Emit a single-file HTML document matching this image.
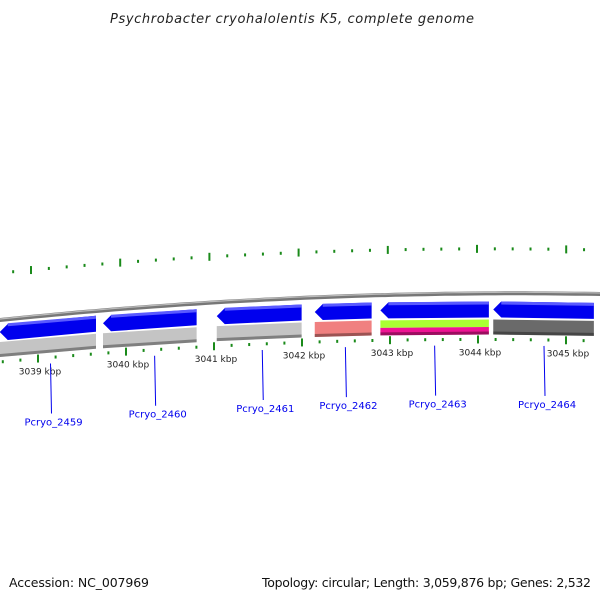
<!DOCTYPE html>
<html><head><meta charset="utf-8"><style>
html,body{margin:0;padding:0;background:#fff;}
svg{display:block;font-family:"DejaVu Sans","Liberation Sans",sans-serif;}
</style></head><body>
<svg id="chart" width="600" height="600" viewBox="0 0 600 600" xmlns="http://www.w3.org/2000/svg">
<text x="292" y="23" text-anchor="middle" font-size="13" font-style="italic" fill="#222" textLength="364">Psychrobacter cryohalolentis K5, complete genome</text>
<text x="9" y="587" font-size="12.5" fill="#111" textLength="140">Accession: NC_007969</text>
<text x="262" y="587" font-size="12.5" fill="#111" textLength="329">Topology: circular; Length: 3,059,876 bp; Genes: 2,532</text>
<g id="g"></g>
</svg>
<script>
// data (positions in kbp)
const geneNames = ["Pcryo_2459","Pcryo_2460","Pcryo_2461","Pcryo_2462","Pcryo_2463","Pcryo_2464"];
const geneStart = [3038.54, 3039.72, 3041.02, 3042.14, 3042.89, 3044.18];
const geneEnd   = [3039.64, 3040.79, 3041.99, 3042.79, 3044.13, 3045.33];
const geneStrand = [-1,-1,-1,-1,-1,-1];
const geneLabelPos = [3039.12, 3040.31, 3041.54, 3042.49, 3043.51, 3044.76];
const tickLabels = ["3039 kbp","3040 kbp","3041 kbp","3042 kbp","3043 kbp","3044 kbp","3045 kbp"];
const tickValues = [3039,3040,3041,3042,3043,3044,3045];
const funcColors = [["#c4c4c4"],["#c4c4c4"],["#c4c4c4"],["#f08080"],["#aaff33","#ee1493"],["#6a6a6a"]];

const NS="http://www.w3.org/2000/svg";
const g=document.getElementById('g');
const xs=k=>40+(k-3039)*87.5;
const xo=k=>31+(k-3039)*89.2;
const xi=k=>38+(k-3039)*88;
const yb=x=>320-0.1033*x+0.0001*x*x;
const e=x=>5*x/600;
function mk(tag,attrs){const el=document.createElementNS(NS,tag);for(const k in attrs)el.setAttribute(k,attrs[k]);g.appendChild(el);return el;}
function Y(x,o){return yb(x)+o+e(x);}
function band(x1,x2,o1,o2){const a=Math.max(x1,-5),b=Math.min(x2,605);return `${a},${Y(a,o1)} ${b},${Y(b,o1)} ${b},${Y(b,o2)} ${a},${Y(a,o2)}`;}

// backbone
let d="";for(let x=-5;x<=605;x+=10)d+=(d?"L":"M")+x+","+yb(x).toFixed(1);
let bb=mk('path',{d:d,stroke:"#777",'stroke-width':4,fill:"none"});


let bb2=mk('path',{d:d,stroke:"#bbb",'stroke-width':1.2,fill:"none",transform:"translate(0,-1)"});



// ticks (every 0.2 kbp)
for(let n=-25;n<=40;n++){
  const kk=3039+n*0.2;
  const major=(n%5===0);const L=major?8:3;
  const x=xo(kk);
  if(x>5&&x<595){
    const yo=yb(x)-47+3*x/600;
    let t1=mk('line',{x1:x,x2:x,y1:yo-L/2,y2:yo+L/2,stroke:"#1a8a1a",'stroke-width':2});
    
    
  }
  const x2=xi(kk);
  if(x2>0&&x2<595){
    const yi=Y(x2,42);
    let t2=mk('line',{x1:x2,x2:x2,y1:yi-L/2,y2:yi+L/2,stroke:"#1a8a1a",'stroke-width':2});
    
    
  }
}
tickValues.forEach((v,i)=>{const x=xi(v)+2;
  const t=mk('text',{x:x,y:Y(x,58),'text-anchor':"middle",'font-size':9,fill:"#222"});t.textContent=tickLabels[i];
  
  
});

// genes
geneNames.forEach((n,i)=>{
  const x1=xs(geneStart[i]),x2=xs(geneEnd[i]);
  const ah=8;
  let pts;
  if(geneStrand[i]<0){pts=`${x1},${Y(x1,12)} ${x1+ah},${Y(x1,4)} ${x2},${Y(x2,4)} ${x2},${Y(x2,20)} ${x1+ah},${Y(x1,20)}`;}
  else{pts=`${x1},${Y(x1,4)} ${x2-ah},${Y(x2,4)} ${x2},${Y(x2,12)} ${x2-ah},${Y(x2,20)} ${x1},${Y(x1,20)}`;}
  const a=mk('polygon',{points:pts,fill:"#0000ee"});
  
  
  const hl=mk('polygon',{points:band(x1+(geneStrand[i]<0?ah:0),x2,4,7),fill:"#5a5aff"});
  
  
  const cols=funcColors[i];const h=15/cols.length;
  cols.forEach((c,j)=>{const r=mk('polygon',{points:band(x1,x2,22+j*h,22+(j+1)*h),fill:c});
    
    });
  const sh=mk('polygon',{points:band(x1,x2,34,37),fill:"rgba(0,0,0,0.35)"});
  
  
  const lx=xs(geneLabelPos[i]);
  const ln=mk('line',{x1:lx,y1:Y(lx,48),x2:lx+1,y2:Y(lx,98),stroke:"#0000ee",'stroke-width':1});
  
  
  const t=mk('text',{x:lx+3,y:Y(lx,110),'text-anchor':"middle",'font-size':10,fill:"#0000ee"});t.textContent=n;
  
  
});
</script>
</body></html>
